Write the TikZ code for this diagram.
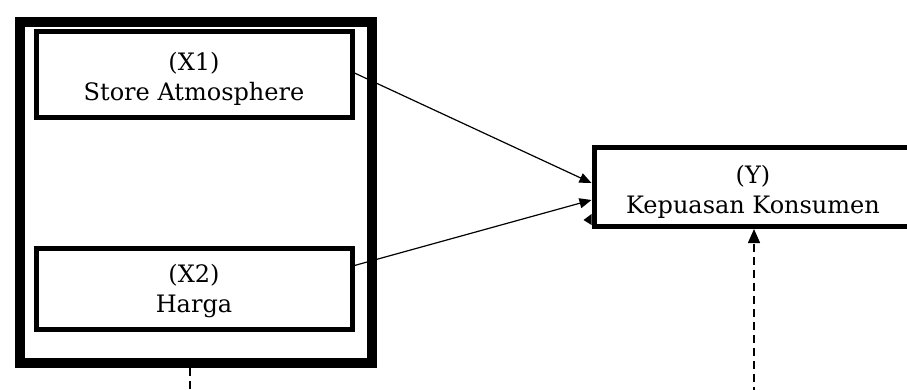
\documentclass[tikz,border=0pt]{standalone}
\usepackage{fontspec}
\setmainfont{DejaVu Serif}
\usetikzlibrary{arrows.meta,calc}
\tikzset{
  x=1pt, y=-1pt,
  outerbox/.style={draw=black, line width=10pt, minimum width=352pt, minimum height=341pt, inner sep=0pt},
  varbox/.style={draw=black, line width=5pt, fill=white, inner sep=0pt},
  vartext/.style={inner sep=0pt, align=center, font=\fontsize{24}{30}\selectfont},
  conn/.style={line width=1.2pt, -{Triangle[length=12pt,width=10pt]}},
  dconn/.style={line width=1.4pt, dash pattern=on 8pt off 5pt, -{Triangle[length=14pt,width=12pt]}},
  dline/.style={line width=1.4pt, dash pattern=on 8pt off 5pt}
}
\begin{document}
\begin{tikzpicture}
\useasboundingbox (0,0) rectangle (907,390);
\clip (0,0) rectangle (907,390);
\fill[white] (0,0) rectangle (907,390);
\node[outerbox] (outer) at (196,192.5) {};
\node[varbox, minimum width=316pt, minimum height=86pt] (x1) at (194,75) {};
\node[varbox, minimum width=316pt, minimum height=81pt] (x2) at (194,288.5) {};
\node[varbox, minimum width=318pt, minimum height=79pt] (y) at (753,187) {};
\node[vartext] (x1t) at ($(x1)+(0,4)$) {(X1)\\Store Atmosphere};
\node[vartext] (x2t) at ($(x2)+(0,3)$) {(X2)\\Harga};
\node[vartext] (yt) at ($(y)+(0,5)$) {(Y)\\Kepuasan Konsumen};
\draw[conn] ($(x1.east)+(0,-2)$) -- ($(y.west)+(0,-4)$);
\draw[conn] ($(x2.east)+(0,-23)$) -- ($(y.west)+(0,13)$);
\fill ($(y.west)+(-8,33)$) -- ($(y.west)+(0,27)$) -- ($(y.west)+(0,38)$) -- cycle;
\coordinate (d1) at (190,395);
\coordinate (d2) at (754,395);
\draw[dline] (outer.south -| d1) -- (d1);
\draw[dconn] (d2) -- (y.south -| d2);
\end{tikzpicture}
\end{document}
